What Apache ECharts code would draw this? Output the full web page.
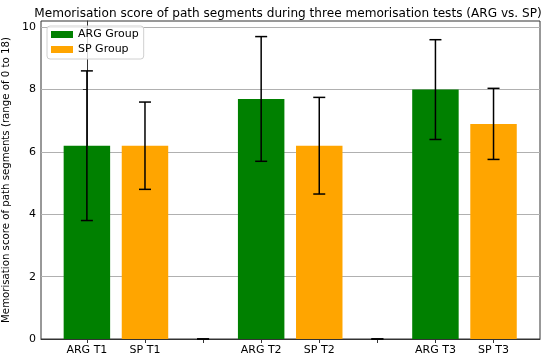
<!DOCTYPE html>
<html>
<head>
<meta charset="utf-8">
<script src="https://cdn.jsdelivr.net/npm/echarts@6/dist/echarts.min.js"></script>
<style>html,body{margin:0;padding:0;background:#fff;}#c{width:550px;height:361px;}</style>
</head>
<body>
<div id="c"></div>
<script>
var tickLabels = ['ARG T1', 'SP T1', '', 'ARG T2', 'SP T2', '', 'ARG T3', 'SP T3'];
var argPositions = [0, 3, 6];
var spPositions = [1, 4, 7];
var argMeans = [6.2, 7.7, 8.0];
var argErrors = [2.4, 2.0, 1.6];
var spMeans = [6.2, 6.2, 6.9];
var spErrors = [1.4, 1.55, 1.14];
var gapPositions = [2, 5];
var gapMeans = [0, 0];
var gapErrors = [0, 0];
var yTicks = [0, 2, 4, 6, 8, 10];

var FONT = 'DejaVu Sans';
var chart = echarts.init(document.getElementById('c'), null, {renderer: 'canvas'});

var argData = argPositions.map(function (p, i) { return [p, argMeans[i]]; });
var spData = spPositions.map(function (p, i) { return [p, spMeans[i]]; });
var errData = [];
argPositions.forEach(function (p, i) { errData.push([p, argMeans[i] - argErrors[i], argMeans[i] + argErrors[i]]); });
spPositions.forEach(function (p, i) { errData.push([p, spMeans[i] - spErrors[i], spMeans[i] + spErrors[i]]); });
gapPositions.forEach(function (p, i) { errData.push([p, gapMeans[i] - gapErrors[i], gapMeans[i] + gapErrors[i]]); });

var BAR_W = 0.8; // bar width in x-axis units

function renderBar(params, api) {
  var x = api.value(0), y = api.value(1);
  var p0 = api.coord([x - BAR_W / 2, 0]);
  var p1 = api.coord([x + BAR_W / 2, y]);
  return {
    type: 'rect',
    shape: {x: p0[0], y: p1[1], width: p1[0] - p0[0], height: p0[1] - p1[1]},
    style: {fill: api.visual('color')}
  };
}

var option = {
  animation: false,
  backgroundColor: '#fff',
  textStyle: {fontFamily: FONT},
  title: {
    text: 'Memorisation score of path segments during three memorisation tests (ARG vs. SP)',
    left: 283, textAlign: 'center', top: 3,
    textStyle: {fontFamily: FONT, fontSize: 12.1, fontWeight: 'normal', color: '#000'}
  },
  legend: {
    orient: 'vertical', left: 47, top: 26,
    itemWidth: 22, itemHeight: 7, itemGap: 2,
    padding: [2, 5, 3, 4],
    borderColor: '#d0d0d0', borderWidth: 1, borderRadius: 3,
    backgroundColor: 'rgba(255,255,255,0.8)',
    textStyle: {fontFamily: FONT, fontSize: 11, color: '#000', lineHeight: 13},
    data: [{name: 'ARG Group', icon: 'rect'}, {name: 'SP Group', icon: 'rect'}]
  },
  grid: {left: 41, right: 10, top: 21, bottom: 22, containLabel: false, outerBoundsMode: 'none',
         show: true, borderColor: '#333', borderWidth: 1, backgroundColor: 'transparent'},
  xAxis: {
    type: 'value', min: -0.79, max: 7.8,
    axisLine: {show: true, lineStyle: {color: '#333'}},
    splitLine: {show: false},
    axisTick: {show: true, length: 4, lineStyle: {color: '#333'}, customValues: [0,1,2,3,4,5,6,7]},
    axisLabel: {
      customValues: [0,1,2,3,4,5,6,7],
      fontFamily: FONT, fontSize: 11, color: '#000', margin: 6,
      formatter: function (v) { var i = Math.round(v); return tickLabels[i] || ''; }
    }
  },
  yAxis: {
    type: 'value', min: 0, max: 10.2, interval: 2,
    name: 'Memorisation score of path segments (range of 0 to 18)',
    nameLocation: 'middle', nameRotate: 90, nameGap: 28,
    nameTextStyle: {fontFamily: FONT, fontSize: 10.2, color: '#000'},
    axisLine: {show: true, lineStyle: {color: '#333'}},
    axisTick: {show: true, length: 4, lineStyle: {color: '#333'}, customValues: yTicks},
    axisLabel: {customValues: yTicks, fontFamily: FONT, fontSize: 11, color: '#000', margin: 5},
    splitLine: {show: true, lineStyle: {color: '#b0b0b0', width: 1}}
  },
  series: [
    {name: 'ARG Group', type: 'custom', data: argData, encode: {x: 0, y: 1}, renderItem: renderBar, itemStyle: {color: '#008000'}, z: 2},
    {name: 'SP Group', type: 'custom', data: spData, encode: {x: 0, y: 1}, renderItem: renderBar, itemStyle: {color: '#FFA500'}, z: 2},
    {
      name: 'err', type: 'custom', data: errData, z: 5,
      encode: {x: 0, y: [1, 2]},
      renderItem: function (params, api) {
        var x = api.value(0);
        var lo = api.coord([x, api.value(1)]);
        var hi = api.coord([x, api.value(2)]);
        var cw = 6;
        var st = {stroke: '#000', lineWidth: 1.5};
        return {type: 'group', children: [
          {type: 'line', shape: {x1: lo[0], y1: lo[1], x2: hi[0], y2: hi[1]}, style: st},
          {type: 'line', shape: {x1: lo[0]-cw, y1: lo[1], x2: lo[0]+cw, y2: lo[1]}, style: st},
          {type: 'line', shape: {x1: hi[0]-cw, y1: hi[1], x2: hi[0]+cw, y2: hi[1]}, style: st}
        ]};
      }
    }
  ]
};
chart.setOption(option);
</script>
</body>
</html>
